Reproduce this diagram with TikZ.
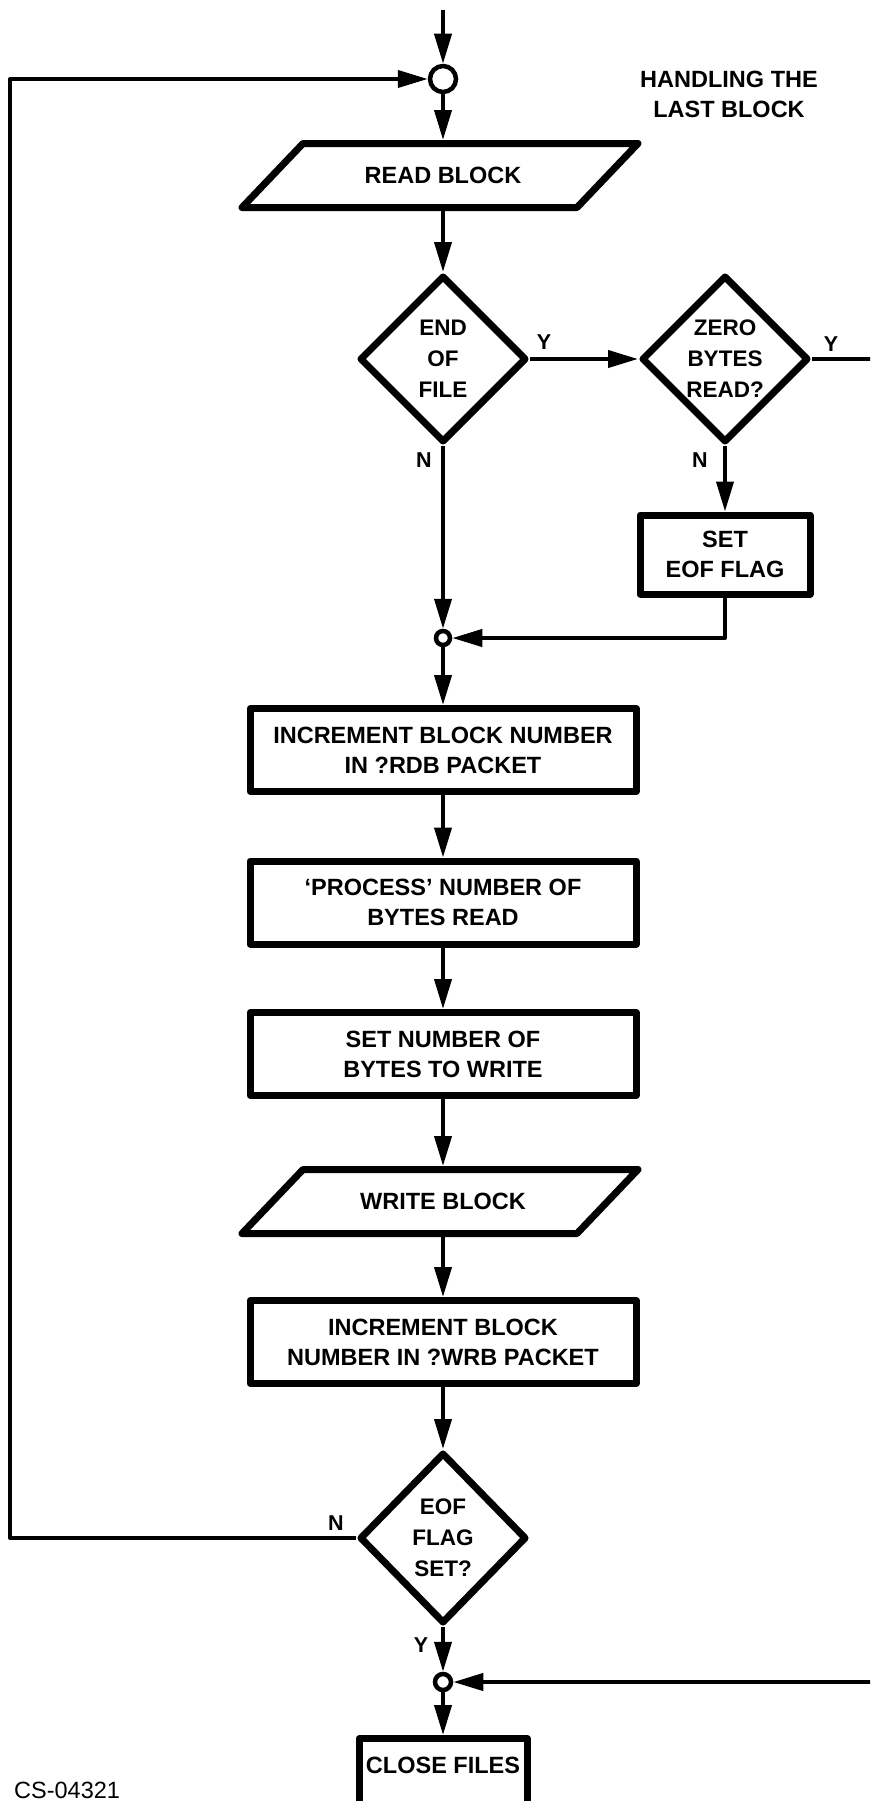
\documentclass[tikz,border=0pt]{standalone}
\usepackage{fontspec}
\setmainfont{Liberation Sans}
\usetikzlibrary{arrows.meta,shapes.geometric}

\newcommand\fcBoxFont{\fontsize{23.5}{30}\selectfont\bfseries}
\newcommand\fcDiaFont{\fontsize{22.5}{31}\selectfont\bfseries}
\newcommand\fcLblFont{\fontsize{21.5}{26}\selectfont\bfseries}

\tikzset{
  procbox/.style={draw, rectangle, line width=7pt, line join=round,
    minimum width=386pt, minimum height=83pt, inner sep=0pt,
    align=center, font=\fcBoxFont},
  iobox/.style={rectangle, minimum width=260pt, minimum height=64pt,
    inner sep=0pt, outer xsep=0pt, outer ysep=3.5pt, font=\fcBoxFont},
  ioframe/.style={draw, line width=7pt, line join=round},
  decision/.style={draw, diamond, aspect=1, line width=7pt, line join=round,
    minimum width=167pt, minimum height=167pt, inner sep=0pt,
    align=center, font=\fcDiaFont},
  junction/.style={draw, circle, line width=4.5pt, inner sep=0pt, fill=white},
  flow/.style={line width=4pt, line join=round,
    -{Triangle[length=30pt,width=17pt]}},
  lbl/.style={inner sep=0pt, font=\fcLblFont},
  title/.style={inner sep=0pt, align=center, font=\fcBoxFont},
}

\begin{document}
\begin{tikzpicture}[x=1pt,y=-1pt]
\useasboundingbox (0,0) rectangle (870,1801);
\clip (0,0) rectangle (870,1801);

% ---- nodes of the main column ----
\node[junction, minimum size=26pt] (c1) at (443,79) {};
\node[iobox] (rb) at (443,175.5) {READ BLOCK};
\node[decision] (d1) at (443,359) {END\\OF\\FILE};
\node[decision] (d2) at (725,359) {ZERO\\BYTES\\READ?};
\node[procbox, minimum width=170pt, minimum height=79pt] (eof) at (725,554.5) {SET\\EOF FLAG};
\node[junction, minimum size=14pt] (c2) at (443,638) {};
\node[procbox] (b1) at (443,750) {INCREMENT BLOCK NUMBER\\IN ?RDB PACKET};
\node[procbox] (b2) at (443,902.5) {‘PROCESS’ NUMBER OF\\BYTES READ};
\node[procbox] (b3) at (443,1054) {SET NUMBER OF\\BYTES TO WRITE};
\node[iobox] (wb) at (443,1201.5) {WRITE BLOCK};
\node[procbox] (b4) at (443,1342) {INCREMENT BLOCK\\NUMBER IN ?WRB PACKET};
\node[decision, minimum height=171pt] (d3) at (443,1538) {EOF\\FLAG\\SET?};
\node[junction, minimum size=16pt] (c3) at (443,1682) {};
\node[procbox, anchor=north, minimum width=168pt, minimum height=0pt,
      inner ysep=18pt, text height=17pt, text depth=45pt] (close) at (443,1735) {CLOSE FILES};

% ---- input / output parallelograms ----
\draw[ioframe] ([shift={(-140,-32)}]rb.center) -- ([shift={(195,-32)}]rb.center)
  -- ([shift={(134,32)}]rb.center) -- ([shift={(-201,32)}]rb.center) -- cycle;
\draw[ioframe] ([shift={(-140,-32)}]wb.center) -- ([shift={(195,-32)}]wb.center)
  -- ([shift={(134,32)}]wb.center) -- ([shift={(-201,32)}]wb.center) -- cycle;

% ---- title and branch labels ----
\node[title] (head) at (729,94.5) {HANDLING THE\\LAST BLOCK};
\node[lbl] (y1) at (544,342) {Y};
\node[lbl] (n1) at (424,460) {N};
\node[lbl] (y2) at (831,344) {Y};
\node[lbl] (n2) at (700,460) {N};
\node[lbl] (n3) at (336,1523) {N};
\node[lbl] (y3) at (421,1645) {Y};
\node[anchor=north west, inner sep=0pt, font=\fontsize{23.5}{28}\selectfont] (ref) at (14,1782) {CS-04321};

% ---- connector end points ----
\coordinate (start) at (443,10);
\coordinate (loop) at (10,79);
\coordinate (rtop) at (892,359);
\coordinate (rbot) at (892,1682);

% ---- connectors ----
\draw[flow] (start) -- (c1.north);
\draw[flow] (c1.south) -- (rb.north);
\draw[flow] (rb.south) -- (d1.north);
\draw[flow] (d1.east) -- (d2.west);
\draw[flow] (d2.east) -- (rtop) -- (rbot) -- (c3.east);
\draw[flow] (d2.south) -- (eof.north);
\draw[flow] (eof.south) |- (c2.east);
\draw[flow] (d1.south) -- (c2.north);
\draw[flow] (c2.south) -- (b1.north);
\draw[flow] (b1.south) -- (b2.north);
\draw[flow] (b2.south) -- (b3.north);
\draw[flow] (b3.south) -- (wb.north);
\draw[flow] (wb.south) -- (b4.north);
\draw[flow] (b4.south) -- (d3.north);
\draw[flow] (d3.south) -- (c3.north);
\draw[flow] (c3.south) -- (close.north);
\draw[flow] (d3.west) -| (loop) -- (c1.west);
\end{tikzpicture}
\end{document}
